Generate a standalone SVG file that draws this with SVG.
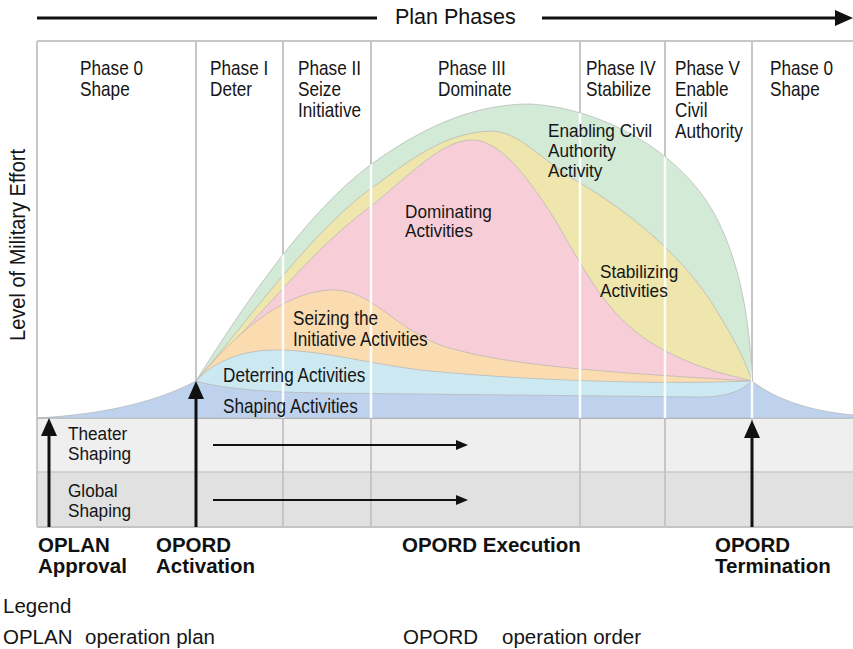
<svg xmlns="http://www.w3.org/2000/svg" width="853" height="649" viewBox="0 0 853 649">
<style>
.t{font-family:"Liberation Sans",Arial,sans-serif;font-size:20px;fill:#151515}
.t19{font-family:"Liberation Sans",Arial,sans-serif;font-size:19px;fill:#151515}
.t18{font-family:"Liberation Sans",Arial,sans-serif;font-size:18px;fill:#151515}
.b{font-family:"Liberation Sans",Arial,sans-serif;font-size:20.5px;font-weight:bold;fill:#111}
.lg{font-family:"Liberation Sans",Arial,sans-serif;font-size:20.5px;fill:#151515}
.pl{stroke:#c6c6c6;stroke-width:2;fill:none}
.wl{stroke:#ffffff;stroke-width:2.5;fill:none;opacity:.9}
.area{stroke:#b4b4b4;stroke-width:1;stroke-opacity:.7}
.arr{stroke:#111;fill:none}
</style>
<defs>
<marker id="headL" markerUnits="userSpaceOnUse" markerWidth="18" markerHeight="18" viewBox="0 0 18 18" refX="1" refY="9" orient="auto"><path d="M0,1 L18,9 L0,17 z" fill="#111"/></marker>
<marker id="headS" markerUnits="userSpaceOnUse" markerWidth="12" markerHeight="10" viewBox="0 0 12 10" refX="1" refY="5" orient="auto"><path d="M0,0 L12,5 L0,10 z" fill="#111"/></marker>
<clipPath id="areaClip">
<path d="M196,381 C225,335 300,215 373,163 C430,122 480,104 530,104 C600,108 680,150 715,215 C740,262 750,320 752,381 L752,418 L196,418 Z"/>
<path d="M37,418 C110,414 160,400 196,381 C220,388 260,392 320,393 L700,397 C725,397 740,392 752,381 C770,395 800,410 853,415 L853,418 Z"/>
</clipPath>
</defs>
<rect width="853" height="649" fill="#ffffff"/>

<g id="bands">
<rect x="37" y="418" width="816" height="54" fill="#efefef"/>
<rect x="37" y="472" width="816" height="55" fill="#e1e1e1"/>
<line x1="37" y1="418" x2="853" y2="418" stroke="#cacaca" stroke-width="2"/>
<line x1="37" y1="472" x2="853" y2="472" stroke="#cacaca" stroke-width="1.5"/>
<line x1="37" y1="527" x2="853" y2="527" stroke="#c4c4c4" stroke-width="2"/>
</g>

<g id="frame">
<line x1="37" y1="41" x2="853" y2="41" stroke="#c8c8c8" stroke-width="2"/>
<line x1="37" y1="41" x2="37" y2="527" stroke="#c8c8c8" stroke-width="2"/>
<path class="pl" d="M196,41V527 M283,41V527 M371,41V527 M580,41V527 M665,41V527 M752,41V527"/>
</g>

<g id="activities">
<path id="enabling-area" class="area" fill="#d2ead6" d="M196,381 C225,335 300,215 373,163 C430,122 480,104 530,104 C600,108 680,150 715,215 C740,262 750,320 752,381 L752,418 L196,418 Z"/>
<path id="stabilizing-area" class="area" fill="#eee6ad" d="M196,381 C245,325 315,225 380,182 C420,152 450,133 490,131 C520,131 540,160 580,183 C630,212 680,255 710,300 C735,340 745,360 752,381 L752,418 L196,418 Z"/>
<path id="dominating-area" class="area" fill="#f7ced7" d="M196,381 C245,335 310,250 370,207 C410,175 440,142 470,140 C500,138 530,180 557,223 C590,280 610,320 660,348 C700,370 730,375 752,381 L752,418 L196,418 Z"/>
<path id="seizing-area" class="area" fill="#fadcb0" d="M196,381 C230,340 280,292 330,290 C370,288 390,325 440,345 C500,365 600,372 752,381 L752,418 L196,418 Z"/>
<path id="deterring-area" class="area" fill="#cce9f1" d="M196,381 C215,360 245,350 275,350 C320,350 360,362 420,370 C520,380 650,385 752,381 L752,418 L196,418 Z"/>
<path id="shaping-area" class="area" fill="#bed2ee" d="M37,418 C110,414 160,400 196,381 C220,388 260,392 320,393 L700,397 C725,397 740,392 752,381 C770,395 800,410 853,415 L853,418 Z"/>
<path class="wl" clip-path="url(#areaClip)" d="M283,41V418 M371,41V418 M580,41V418 M665,41V418 M752,41V418"/>
</g>

<g id="top-axis">
<text x="395" y="24" font-family="Liberation Sans, Arial, sans-serif" font-size="21.5" fill="#111">Plan Phases</text>
</g>

<g id="y-axis">
<text class="t" text-anchor="middle" transform="translate(25,245) rotate(-90) scale(0.91,1)" style="font-size:22px">Level of Military Effort</text>
</g>

<g id="phase-labels">
<text class="t" transform="translate(80,75) scale(0.86,1)"><tspan x="0" y="0">Phase 0</tspan><tspan x="0" y="21">Shape</tspan></text>
<text class="t" transform="translate(210,75) scale(0.86,1)"><tspan x="0" y="0">Phase I</tspan><tspan x="0" y="21">Deter</tspan></text>
<text class="t" transform="translate(298,75) scale(0.86,1)"><tspan x="0" y="0">Phase II</tspan><tspan x="0" y="21">Seize</tspan><tspan x="0" y="42">Initiative</tspan></text>
<text class="t" transform="translate(438,75) scale(0.86,1)"><tspan x="0" y="0">Phase III</tspan><tspan x="0" y="21">Dominate</tspan></text>
<text class="t" transform="translate(586,75) scale(0.86,1)"><tspan x="0" y="0">Phase IV</tspan><tspan x="0" y="21">Stabilize</tspan></text>
<text class="t" transform="translate(675,75) scale(0.86,1)"><tspan x="0" y="0">Phase V</tspan><tspan x="0" y="21">Enable</tspan><tspan x="0" y="42">Civil</tspan><tspan x="0" y="63">Authority</tspan></text>
<text class="t" transform="translate(770,75) scale(0.86,1)"><tspan x="0" y="0">Phase 0</tspan><tspan x="0" y="21">Shape</tspan></text>
</g>

<g id="activity-labels">
<text class="t19" transform="translate(548,137) scale(0.905,1)"><tspan x="0" y="0">Enabling Civil</tspan><tspan x="0" y="20">Authority</tspan><tspan x="0" y="40">Activity</tspan></text>
<text class="t18" transform="translate(405,218) scale(0.955,1)"><tspan x="0" y="0">Dominating</tspan><tspan x="0" y="19">Activities</tspan></text>
<text class="t18" transform="translate(600,278) scale(0.955,1)"><tspan x="0" y="0">Stabilizing</tspan><tspan x="0" y="19">Activities</tspan></text>
<text class="t" transform="translate(293,325) scale(0.86,1)"><tspan x="0" y="0">Seizing the</tspan><tspan x="0" y="21">Initiative Activities</tspan></text>
<text class="t" transform="translate(223,382) scale(0.86,1)">Deterring Activities</text>
<text class="t" transform="translate(223,413) scale(0.86,1)">Shaping Activities</text>
</g>

<g id="band-labels">
<text class="t19" transform="translate(68,440) scale(0.905,1)"><tspan x="0" y="0">Theater</tspan><tspan x="0" y="20">Shaping</tspan></text>
<text class="t19" transform="translate(68,497) scale(0.905,1)"><tspan x="0" y="0">Global</tspan><tspan x="0" y="20">Shaping</tspan></text>
</g>

<g id="connectors">
<line class="arr" x1="37" y1="18" x2="377" y2="18" stroke-width="3"/>
<line class="arr" x1="542" y1="18" x2="836" y2="18" stroke-width="3" marker-end="url(#headL)"/>
<line class="arr" x1="49" y1="527" x2="49" y2="435" stroke-width="3" marker-end="url(#headL)"/>
<line class="arr" x1="196" y1="527" x2="196" y2="398" stroke-width="3" marker-end="url(#headL)"/>
<line class="arr" x1="752" y1="527" x2="752" y2="437" stroke-width="3" marker-end="url(#headL)"/>
<line class="arr" x1="213" y1="445" x2="457" y2="445" stroke-width="2" marker-end="url(#headS)"/>
<line class="arr" x1="213" y1="500" x2="457" y2="500" stroke-width="2" marker-end="url(#headS)"/>
</g>

<g id="milestones">
<text class="b" x="38" y="552">OPLAN</text>
<text class="b" x="38" y="573">Approval</text>
<text class="b" x="156" y="552">OPORD</text>
<text class="b" x="156" y="573">Activation</text>
<text class="b" x="402" y="552">OPORD Execution</text>
<text class="b" x="715" y="552">OPORD</text>
<text class="b" x="715" y="573">Termination</text>
</g>

<g id="legend">
<text class="lg" x="3" y="613">Legend</text>
<text class="lg" x="3" y="644">OPLAN</text>
<text class="lg" x="85" y="644">operation plan</text>
<text class="lg" x="403" y="644">OPORD</text>
<text class="lg" x="502" y="644">operation order</text>
</g>
</svg>
